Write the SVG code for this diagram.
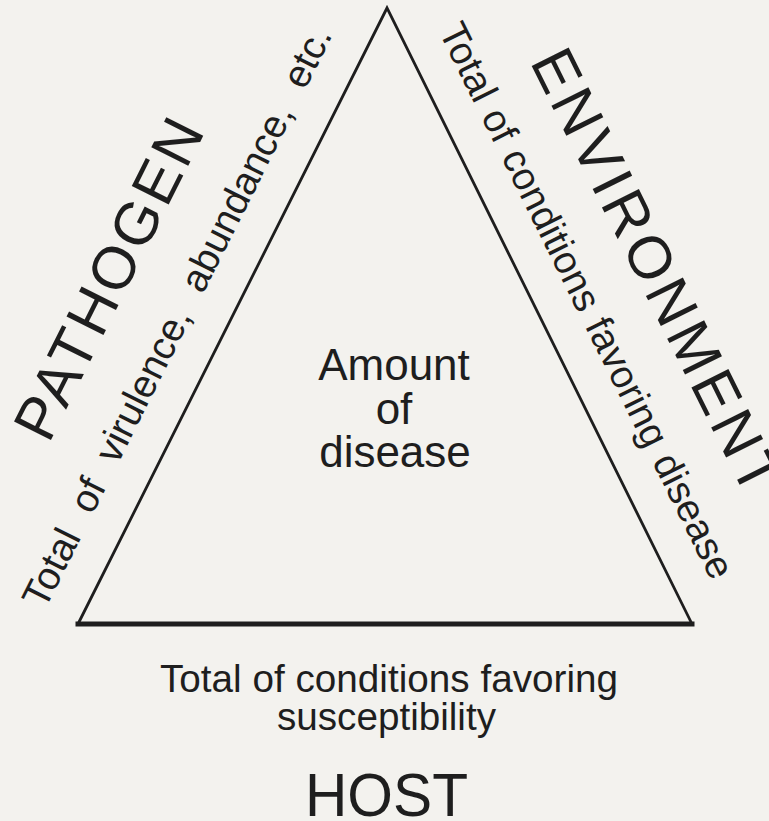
<svg xmlns="http://www.w3.org/2000/svg" width="769" height="821" viewBox="0 0 769 821">
  <style>
    text { font-family: "Liberation Sans", Arial, sans-serif; fill: #1e1e1e; }
    .side { fill: none; stroke: #1e1e1e; stroke-width: 2.8; stroke-linejoin: miter; stroke-linecap: butt; }
    .base { fill: none; stroke: #1e1e1e; stroke-width: 5; stroke-linecap: square; }
    .big { font-size: 60px; text-anchor: middle; }
    .small { font-size: 39px; text-anchor: middle; }
    .center { font-size: 44px; text-anchor: middle; }
    .bottom { font-size: 38px; text-anchor: middle; }
  </style>
  <rect width="769" height="821" fill="#f3f2ee"/>

  <g id="triangle">
    <polyline class="side" points="78,624 387,8 692,624"/>
    <line class="base" x1="78" y1="624" x2="692" y2="624"/>
  </g>

  <g id="center-label">
    <text class="center" x="394" y="380">Amount</text>
    <text class="center" x="394" y="424">of</text>
    <text class="center" x="395" y="467">disease</text>
  </g>

  <g id="pathogen">
    <text class="big" textLength="350" lengthAdjust="spacing" transform="translate(127,288) rotate(-63.4)">PATHOGEN</text>
    <text class="small" word-spacing="13" transform="translate(188.8,322.7) rotate(-63.4)">Total of virulence, abundance, etc.</text>
  </g>

  <g id="environment">
    <text class="big" textLength="488" lengthAdjust="spacing" transform="translate(638,280) rotate(63.6)">ENVIRONMENT</text>
    <text class="small" word-spacing="2" transform="translate(574.9,306.4) rotate(63.6)">Total of conditions favoring disease</text>
  </g>

  <g id="host">
    <text class="bottom" x="389" y="692" textLength="458" lengthAdjust="spacingAndGlyphs">Total of conditions favoring</text>
    <text class="bottom" x="386.5" y="730" textLength="219" lengthAdjust="spacingAndGlyphs">susceptibility</text>
    <text x="386.5" y="816" font-size="62" text-anchor="middle" textLength="163" lengthAdjust="spacingAndGlyphs">HOST</text>
  </g>
</svg>
